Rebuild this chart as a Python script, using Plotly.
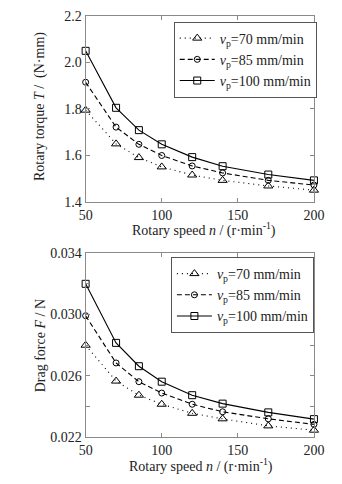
import plotly.graph_objects as go

speed = [50, 70, 85, 100, 120, 140, 170, 200]
series_names = ["<i>v</i><sub>p</sub>=70 mm/min", "<i>v</i><sub>p</sub>=85 mm/min", "<i>v</i><sub>p</sub>=100 mm/min"]
torque_70 = [1.794, 1.649, 1.590, 1.550, 1.515, 1.492, 1.468, 1.450]
torque_85 = [1.914, 1.721, 1.647, 1.599, 1.554, 1.524, 1.492, 1.472]
torque_100 = [2.049, 1.804, 1.708, 1.647, 1.592, 1.553, 1.517, 1.492]
drag_70 = [0.0280, 0.02566, 0.02474, 0.02415, 0.02356, 0.02320, 0.02274, 0.02246]
drag_85 = [0.02992, 0.02684, 0.02562, 0.02488, 0.02415, 0.02366, 0.02320, 0.02284]
drag_100 = [0.0320, 0.02815, 0.02663, 0.02562, 0.02474, 0.02419, 0.02362, 0.02318]
x_ticks = [50, 100, 150, 200]
torque_ticks = [1.4, 1.6, 1.8, 2.0, 2.2]
torque_labels = ["1.4", "1.6", "1.8", "2.0", "2.2"]
drag_ticks = [0.022, 0.024, 0.026, 0.028, 0.030, 0.032, 0.034]
drag_labels = ["0.022", "", "0.026", "", "0.030", "", "0.034"]

FONT = "Liberation Serif"
styles = [
    dict(dash="1px,4px", symbol="triangle-up-open", size=8),
    dict(dash="5px,3px", symbol="circle-open", size=6),
    dict(dash="solid", symbol="square-open", size=7),
]

fig = go.Figure()
for name, ys, st in zip(series_names, [torque_70, torque_85, torque_100], styles):
    fig.add_trace(go.Scatter(
        x=speed, y=ys, name=name, mode="lines+markers",
        line=dict(color="black", width=1.1, dash=st["dash"]),
        marker=dict(symbol=st["symbol"], size=st["size"], color="black", line=dict(width=1, color="black")),
        xaxis="x", yaxis="y", legend="legend", cliponaxis=False,
    ))
for name, ys, st in zip(series_names, [drag_70, drag_85, drag_100], styles):
    fig.add_trace(go.Scatter(
        x=speed, y=ys, name=name, mode="lines+markers",
        line=dict(color="black", width=1.1, dash=st["dash"]),
        marker=dict(symbol=st["symbol"], size=st["size"], color="black", line=dict(width=1, color="black")),
        xaxis="x2", yaxis="y2", legend="legend2", cliponaxis=False,
    ))

W, H = 342, 484
xd = [83 / W, 324 / W]
axis_common = dict(showline=True, linecolor="#8a8a8a", linewidth=1, mirror="ticks",
                   ticks="inside", ticklen=4, tickcolor="#8a8a8a", showgrid=False, zeroline=False,
                   tickfont=dict(family=FONT, size=14, color="#222"))

legend_common = dict(xanchor="left", yanchor="top", bordercolor="#555", borderwidth=1,
                     bgcolor="white", font=dict(family=FONT, size=14, color="#222"),
                     tracegroupgap=0, itemwidth=35)

fig.update_layout(
    width=W, height=H, margin=dict(l=0, r=0, t=0, b=0),
    paper_bgcolor="white", plot_bgcolor="white",
    font=dict(family=FONT, color="#222"),
    xaxis=dict(domain=xd, range=[50, 200], tickvals=x_ticks, anchor="y", **axis_common),
    yaxis=dict(domain=[1 - 201 / H, 1 - 9 / H], range=[1.4, 2.2], tickvals=torque_ticks,
               ticktext=torque_labels, anchor="x", **axis_common),
    xaxis2=dict(domain=xd, range=[50, 200], tickvals=x_ticks, anchor="y2", **axis_common),
    yaxis2=dict(domain=[1 - 444 / H, 1 - 254 / H], range=[0.022, 0.034], tickvals=drag_ticks,
                ticktext=drag_labels, anchor="x2", **axis_common),
    legend=dict(x=176 / W, y=1 - 15 / H, **legend_common),
    legend2=dict(x=173 / W, y=1 - 258 / H, **legend_common),
    showlegend=True,
    annotations=[
        dict(text="Rotary speed <i>n</i> / (r·min<sup>-1</sup>)", x=208 / W, y=1 - 230 / H,
             xref="paper", yref="paper", showarrow=False, xanchor="center", yanchor="middle",
             font=dict(family=FONT, size=14, color="#222")),
        dict(text="Rotary torque <i>T</i> /  (N·mm)", x=35 / W, y=1 - 103 / H,
             xref="paper", yref="paper", showarrow=False, xanchor="center", yanchor="middle",
             textangle=-90, font=dict(family=FONT, size=14, color="#222")),
        dict(text="Rotary speed <i>n</i> / (r·min<sup>-1</sup>)", x=205 / W, y=1 - 473 / H,
             xref="paper", yref="paper", showarrow=False, xanchor="center", yanchor="middle",
             font=dict(family=FONT, size=14, color="#222")),
        dict(text="Drag force <i>F</i> / N", x=35 / W, y=1 - 350 / H,
             xref="paper", yref="paper", showarrow=False, xanchor="center", yanchor="middle",
             textangle=-90, font=dict(family=FONT, size=14, color="#222")),
    ],
)

fig.write_html("out.html")
